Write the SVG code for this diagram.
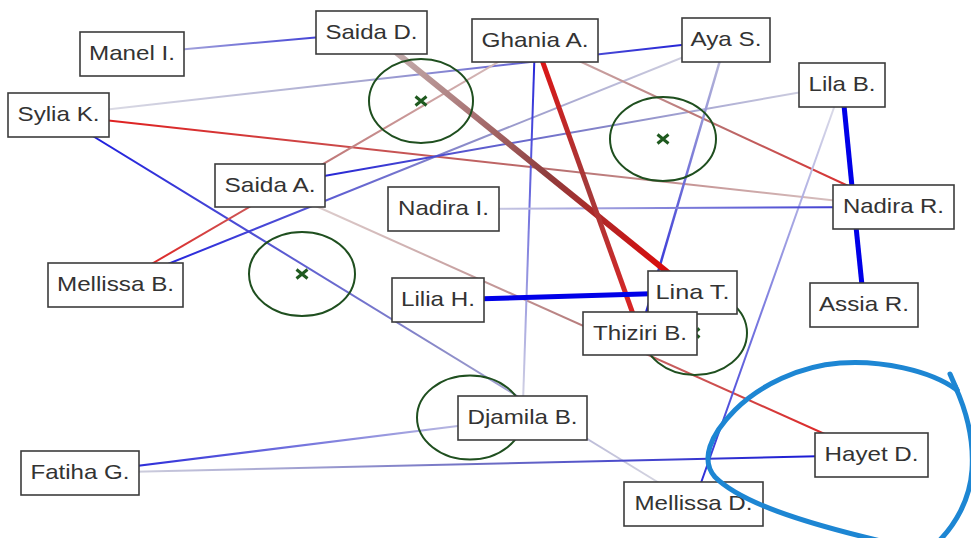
<svg xmlns="http://www.w3.org/2000/svg" width="971" height="538" viewBox="0 0 971 538">
  <defs>
    <style>
      .edge { fill: none; stroke-linecap: butt; }
      .w2 { stroke-width: 2; }
      .w3 { stroke-width: 2.5; }
      .w5 { stroke-width: 5; }
      .w6 { stroke-width: 6; }
      .blue { stroke: #0000e8; }
      .ring { fill: none; stroke: #1f4f1f; stroke-width: 2; }
      .cross { stroke: #1f5a1f; stroke-width: 3; stroke-linecap: butt; }
      .box { fill: #ffffff; stroke: #3c3c3c; stroke-width: 1.6; }
      .lbl { font-family: "Liberation Sans", Arial, sans-serif; font-size: 21px; fill: #333333; text-anchor: middle; }
      .mark { fill: none; stroke: #1d86d3; stroke-width: 5; stroke-linecap: round; stroke-linejoin: round; }
    </style>
    <!-- per-edge colour ramps, endpoints = node centres -->
    <linearGradient id="g-manel-saidad" gradientUnits="userSpaceOnUse" x1="132" y1="54" x2="371.5" y2="32.5"><stop offset="0" stop-color="#c8c8dc"/><stop offset="1" stop-color="#1c1cd4"/></linearGradient>
    <linearGradient id="g-sylia-aya" gradientUnits="userSpaceOnUse" x1="58.5" y1="115" x2="726" y2="40"><stop offset="0" stop-color="#e4e4e8"/><stop offset="0.45" stop-color="#a8a8d0"/><stop offset="1" stop-color="#1414d8"/></linearGradient>
    <linearGradient id="g-sylia-nadirar" gradientUnits="userSpaceOnUse" x1="58.5" y1="115" x2="893.5" y2="207"><stop offset="0" stop-color="#e41818"/><stop offset="0.6" stop-color="#b87070"/><stop offset="1" stop-color="#dcd0d0"/></linearGradient>
    <linearGradient id="g-sylia-mellissad" gradientUnits="userSpaceOnUse" x1="58.5" y1="115" x2="693.5" y2="504"><stop offset="0" stop-color="#1414e0"/><stop offset="0.6" stop-color="#8a8ac8"/><stop offset="1" stop-color="#e0e0e4"/></linearGradient>
    <linearGradient id="g-mellissab-ghania" gradientUnits="userSpaceOnUse" x1="115.5" y1="285" x2="535" y2="40.5"><stop offset="0" stop-color="#e41818"/><stop offset="0.5" stop-color="#c07878"/><stop offset="1" stop-color="#d8c8c8"/></linearGradient>
    <linearGradient id="g-mellissab-aya" gradientUnits="userSpaceOnUse" x1="115.5" y1="285" x2="726" y2="40"><stop offset="0" stop-color="#1414e0"/><stop offset="0.6" stop-color="#9090c8"/><stop offset="1" stop-color="#dcdce4"/></linearGradient>
    <linearGradient id="g-saidaa-lila" gradientUnits="userSpaceOnUse" x1="270" y1="185.5" x2="842" y2="85"><stop offset="0" stop-color="#1414d8"/><stop offset="0.6" stop-color="#8888c8"/><stop offset="1" stop-color="#dcdce4"/></linearGradient>
    <linearGradient id="g-saidaa-hayet" gradientUnits="userSpaceOnUse" x1="270" y1="185.5" x2="871.5" y2="455"><stop offset="0" stop-color="#e4dcdc"/><stop offset="0.5" stop-color="#b88080"/><stop offset="1" stop-color="#e41818"/></linearGradient>
    <linearGradient id="g-saidad-lina" gradientUnits="userSpaceOnUse" x1="371.5" y1="32.5" x2="692.5" y2="292.5"><stop offset="0" stop-color="#cbbfbf"/><stop offset="0.55" stop-color="#8f3c3c"/><stop offset="1" stop-color="#ec0000"/></linearGradient>
    <linearGradient id="g-ghania-thiziri" gradientUnits="userSpaceOnUse" x1="535" y1="40.5" x2="640" y2="333.5"><stop offset="0" stop-color="#e41010"/><stop offset="0.5" stop-color="#a43a3a"/><stop offset="1" stop-color="#e42020"/></linearGradient>
    <linearGradient id="g-ghania-djamila" gradientUnits="userSpaceOnUse" x1="535" y1="40.5" x2="522.5" y2="418"><stop offset="0" stop-color="#1c1cd8"/><stop offset="1" stop-color="#dcdce4"/></linearGradient>
    <linearGradient id="g-ghania-nadirar" gradientUnits="userSpaceOnUse" x1="535" y1="40.5" x2="893.5" y2="207"><stop offset="0" stop-color="#d0b8b8"/><stop offset="0.5" stop-color="#b87070"/><stop offset="1" stop-color="#e41818"/></linearGradient>
    <linearGradient id="g-aya-thiziri" gradientUnits="userSpaceOnUse" x1="726" y1="40" x2="640" y2="333.5"><stop offset="0" stop-color="#c4c4d8"/><stop offset="1" stop-color="#1414d8"/></linearGradient>
    <linearGradient id="g-lila-mellissad" gradientUnits="userSpaceOnUse" x1="842" y1="85" x2="693.5" y2="504"><stop offset="0" stop-color="#e4e4e8"/><stop offset="1" stop-color="#2424d8"/></linearGradient>
    <linearGradient id="g-nadirai-nadirar" gradientUnits="userSpaceOnUse" x1="443.5" y1="209" x2="893.5" y2="207"><stop offset="0" stop-color="#dcdce4"/><stop offset="1" stop-color="#2a2ad0"/></linearGradient>
    <linearGradient id="g-fatiha-djamila" gradientUnits="userSpaceOnUse" x1="80" y1="473" x2="522.5" y2="418"><stop offset="0" stop-color="#1414d8"/><stop offset="1" stop-color="#d4d4e2"/></linearGradient>
    <linearGradient id="g-fatiha-hayet" gradientUnits="userSpaceOnUse" x1="80" y1="473" x2="871.5" y2="455"><stop offset="0" stop-color="#dcdce0"/><stop offset="0.5" stop-color="#7070c4"/><stop offset="1" stop-color="#0c0cd8"/></linearGradient>
  </defs>

  <rect width="971" height="538" fill="#ffffff"/>

  <!-- connectors (drawn under the boxes) -->
  <g id="connectors">
    <line class="edge w2" stroke="url(#g-manel-saidad)" x1="132" y1="54" x2="371.5" y2="32.5"/>
    <line class="edge w2" stroke="url(#g-sylia-aya)" x1="58.5" y1="115" x2="726" y2="40"/>
    <line class="edge w2" stroke="url(#g-sylia-nadirar)" x1="58.5" y1="115" x2="893.5" y2="207"/>
    <line class="edge w2" stroke="url(#g-sylia-mellissad)" x1="58.5" y1="115" x2="693.5" y2="504"/>
    <line class="edge w2" stroke="url(#g-mellissab-ghania)" x1="115.5" y1="285" x2="535" y2="40.5"/>
    <line class="edge w2" stroke="url(#g-mellissab-aya)" x1="115.5" y1="285" x2="726" y2="40"/>
    <line class="edge w2" stroke="url(#g-saidaa-lila)" x1="270" y1="185.5" x2="842" y2="85"/>
    <line class="edge w2" stroke="url(#g-saidaa-hayet)" x1="270" y1="185.5" x2="871.5" y2="455"/>
    <line class="edge w2" stroke="url(#g-ghania-djamila)" x1="535" y1="40.5" x2="522.5" y2="418"/>
    <line class="edge w2" stroke="url(#g-ghania-nadirar)" x1="535" y1="40.5" x2="893.5" y2="207"/>
    <line class="edge w3" stroke="url(#g-aya-thiziri)" x1="726" y1="40" x2="640" y2="333.5"/>
    <line class="edge w2" stroke="url(#g-lila-mellissad)" x1="842" y1="85" x2="693.5" y2="504"/>
    <line class="edge w2" stroke="url(#g-nadirai-nadirar)" x1="443.5" y1="209" x2="893.5" y2="207"/>
    <line class="edge w2" stroke="url(#g-fatiha-djamila)" x1="80" y1="473" x2="522.5" y2="418"/>
    <line class="edge w2" stroke="url(#g-fatiha-hayet)" x1="80" y1="473" x2="871.5" y2="455"/>
    <line class="edge w6" stroke="url(#g-saidad-lina)" x1="371.5" y1="32.5" x2="692.5" y2="292.5"/>
    <line class="edge w5" stroke="url(#g-ghania-thiziri)" x1="535" y1="40.5" x2="640" y2="333.5"/>
    <line class="edge w5 blue" x1="842" y1="85" x2="854" y2="207"/>
    <line class="edge w5 blue" x1="854" y1="207" x2="864" y2="305"/>
    <line class="edge w5 blue" x1="438" y1="300" x2="692.5" y2="292.5"/>
  </g>

  <!-- cluster rings with centre marks -->
  <g id="clusters">
    <ellipse class="ring" cx="421" cy="101" rx="52" ry="42"/>
    <path class="cross" d="M415.5 96.5 L426.5 105.5 M426.5 96.5 L415.5 105.5"/>
    <ellipse class="ring" cx="663" cy="139" rx="53" ry="42"/>
    <path class="cross" d="M657.5 134.5 L668.5 143.5 M668.5 134.5 L657.5 143.5"/>
    <ellipse class="ring" cx="302" cy="274" rx="53" ry="42"/>
    <path class="cross" d="M296.5 269.5 L307.5 278.5 M307.5 269.5 L296.5 278.5"/>
    <ellipse class="ring" cx="470" cy="417.5" rx="53" ry="42"/>
    <path class="cross" d="M464.5 413 L475.5 422 M475.5 413 L464.5 422"/>
    <ellipse class="ring" cx="695" cy="333" rx="52" ry="42"/>
    <path class="cross" d="M688.5 328.5 L699.5 337.5 M699.5 328.5 L688.5 337.5"/>
  </g>

  <!-- nodes -->
  <g id="n-manel"><rect class="box" x="80" y="32" width="104" height="44"/><text class="lbl" x="132" y="60" textLength="86" lengthAdjust="spacingAndGlyphs">Manel I.</text></g>
  <g id="n-sylia"><rect class="box" x="8" y="93" width="101" height="44"/><text class="lbl" x="58.5" y="121" textLength="82" lengthAdjust="spacingAndGlyphs">Sylia K.</text></g>
  <g id="n-saidaa"><rect class="box" x="215" y="164" width="110" height="43"/><text class="lbl" x="270" y="191.5" textLength="91" lengthAdjust="spacingAndGlyphs">Saida A.</text></g>
  <g id="n-saidad"><rect class="box" x="316" y="11" width="111" height="43"/><text class="lbl" x="371.5" y="38.5" textLength="92" lengthAdjust="spacingAndGlyphs">Saida D.</text></g>
  <g id="n-ghania"><rect class="box" x="472" y="19" width="126" height="43"/><text class="lbl" x="535" y="46.5" textLength="107" lengthAdjust="spacingAndGlyphs">Ghania A.</text></g>
  <g id="n-aya"><rect class="box" x="682" y="18" width="88" height="44"/><text class="lbl" x="726" y="46" textLength="71" lengthAdjust="spacingAndGlyphs">Aya S.</text></g>
  <g id="n-lila"><rect class="box" x="799" y="63" width="86" height="44"/><text class="lbl" x="842" y="91" textLength="67" lengthAdjust="spacingAndGlyphs">Lila B.</text></g>
  <g id="n-nadirar"><rect class="box" x="833" y="185" width="121" height="44"/><text class="lbl" x="893.5" y="213" textLength="101" lengthAdjust="spacingAndGlyphs">Nadira R.</text></g>
  <g id="n-assia"><rect class="box" x="810" y="283" width="108" height="44"/><text class="lbl" x="864" y="311" textLength="90" lengthAdjust="spacingAndGlyphs">Assia R.</text></g>
  <g id="n-nadirai"><rect class="box" x="388" y="187" width="111" height="44"/><text class="lbl" x="443.5" y="215" textLength="91" lengthAdjust="spacingAndGlyphs">Nadira I.</text></g>
  <g id="n-lilia"><rect class="box" x="392" y="278" width="92" height="44"/><text class="lbl" x="438" y="306" textLength="74" lengthAdjust="spacingAndGlyphs">Lilia H.</text></g>
  <g id="n-mellissab"><rect class="box" x="48" y="263" width="135" height="44"/><text class="lbl" x="115.5" y="291" textLength="117" lengthAdjust="spacingAndGlyphs">Mellissa B.</text></g>
  <g id="n-lina"><rect class="box" x="648" y="271" width="89" height="43"/><text class="lbl" x="692.5" y="298.5" textLength="74" lengthAdjust="spacingAndGlyphs">Lina T.</text></g>
  <g id="n-thiziri"><rect class="box" x="583" y="312" width="114" height="43"/><text class="lbl" x="640" y="339.5" textLength="94" lengthAdjust="spacingAndGlyphs">Thiziri B.</text></g>
  <g id="n-djamila"><rect class="box" x="458" y="396" width="129" height="44"/><text class="lbl" x="522.5" y="424" textLength="110" lengthAdjust="spacingAndGlyphs">Djamila B.</text></g>
  <g id="n-mellissad"><rect class="box" x="624" y="482" width="139" height="44"/><text class="lbl" x="693.5" y="510" textLength="118" lengthAdjust="spacingAndGlyphs">Mellissa D.</text></g>
  <g id="n-hayet"><rect class="box" x="815" y="433" width="113" height="44"/><text class="lbl" x="871.5" y="461" textLength="94" lengthAdjust="spacingAndGlyphs">Hayet D.</text></g>
  <g id="n-fatiha"><rect class="box" x="21" y="451" width="118" height="44"/><text class="lbl" x="80" y="479" textLength="99" lengthAdjust="spacingAndGlyphs">Fatiha G.</text></g>

  <!-- freehand loop drawn over the lower right corner -->
  <g id="annotation">
    <path class="mark" d="M957 390 C930 370 880 360 840 363 C800 366 760 385 735 410 C710 435 700 460 715 477 C740 502 800 522 885 542"/>
    <path class="mark" d="M955 386 C966 410 974 440 972 470 C970 500 955 525 938 542"/>
    <path class="mark" d="M950 374 L957 390"/>
  </g>
</svg>
